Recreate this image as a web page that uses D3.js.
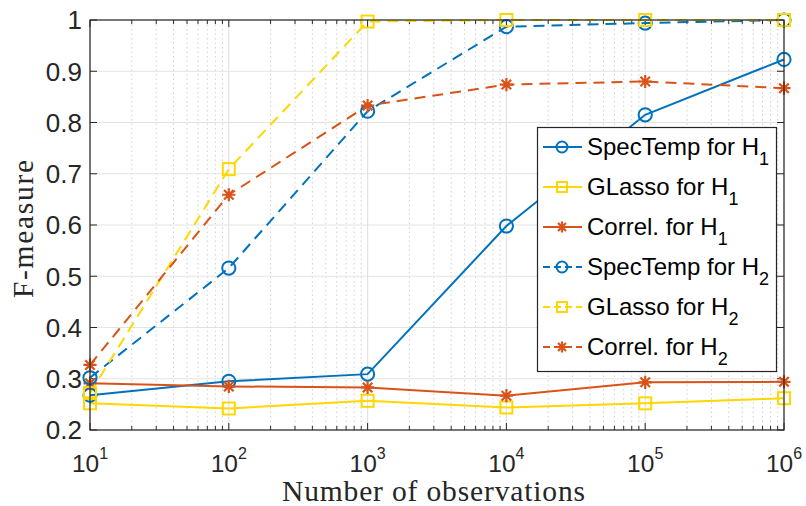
<!DOCTYPE html>
<html><head><meta charset="utf-8">
<script src="https://cdn.jsdelivr.net/npm/d3@7"></script>
<style>body{margin:0;background:#fff}svg{display:block}</style>
</head><body>
<svg id="c" width="806" height="506"></svg>
<script>
const xValues = [1e1, 1e2, 1e3, 1e4, 1e5, 1e6];
const specTempH1 = [0.268, 0.295, 0.309, 0.598, 0.815, 0.923];
const glassoH1   = [0.252, 0.242, 0.257, 0.244, 0.252, 0.262];
const correlH1   = [0.291, 0.285, 0.283, 0.267, 0.293, 0.294];
const specTempH2 = [0.302, 0.516, 0.822, 0.987, 0.994, 1.0];
const glassoH2   = [0.272, 0.709, 0.997, 1.0, 1.0, 1.0];
const correlH2   = [0.327, 0.659, 0.833, 0.874, 0.880, 0.867];
const seriesNames = ["SpecTemp for H", "GLasso for H", "Correl. for H", "SpecTemp for H", "GLasso for H", "Correl. for H"];
const seriesSubs = ["1","1","1","2","2","2"];
const yTicks = [0.2, 0.3, 0.4, 0.5, 0.6, 0.7, 0.8, 0.9, 1];
const yTickLabels = ["0.2","0.3","0.4","0.5","0.6","0.7","0.8","0.9","1"];
const xTickExps = ["1","2","3","4","5","6"];
const xLabel = "Number of observations";
const yLabel = "F-measure";

const BLUE = "#0072BD", ORANGE = "#D95319", YELLOW = "#FFD700";
const series = [
  {vals: specTempH1, color: BLUE, marker: "circle", dash: null},
  {vals: glassoH1, color: YELLOW, marker: "square", dash: null},
  {vals: correlH1, color: ORANGE, marker: "star", dash: null},
  {vals: specTempH2, color: BLUE, marker: "circle", dash: "11,7"},
  {vals: glassoH2, color: YELLOW, marker: "square", dash: "11,7"},
  {vals: correlH2, color: ORANGE, marker: "star", dash: "11,7"}
];

const L = 90, R = 784, T = 20, B = 430;
const x = d3.scaleLog().domain([10, 1e6]).range([L, R]);
const y = d3.scaleLinear().domain([0.2, 1]).range([B, T]);
const svg = d3.select("#c");
const AX = "#262626";
const sans = "'Liberation Sans', Arial, Helvetica, sans-serif";
const serif = "'Liberation Serif', 'DejaVu Serif', serif";

const minor = [];
for (let e = 1; e < 6; e++) for (let m = 2; m <= 9; m++) minor.push(m * Math.pow(10, e));

const g = svg.append("g");
g.selectAll(".mg").data(minor).enter().append("line")
  .attr("x1", d => x(d)).attr("x2", d => x(d)).attr("y1", T).attr("y2", B)
  .attr("stroke", "#cfcfcf").attr("stroke-width", 1).attr("stroke-dasharray", "1.5,3");
g.selectAll(".gx").data(xValues).enter().append("line")
  .attr("x1", d => x(d)).attr("x2", d => x(d)).attr("y1", T).attr("y2", B)
  .attr("stroke", "#e3e3e3").attr("stroke-width", 1.2);
g.selectAll(".gy").data(yTicks).enter().append("line")
  .attr("x1", L).attr("x2", R).attr("y1", d => y(d)).attr("y2", d => y(d))
  .attr("stroke", "#e3e3e3").attr("stroke-width", 1.2);

const tk = svg.append("g").attr("stroke", AX).attr("stroke-width", 1);
xValues.forEach(v => {
  tk.append("line").attr("x1", x(v)).attr("x2", x(v)).attr("y1", B).attr("y2", B - 7);
  tk.append("line").attr("x1", x(v)).attr("x2", x(v)).attr("y1", T).attr("y2", T + 7);
});
minor.forEach(v => {
  tk.append("line").attr("x1", x(v)).attr("x2", x(v)).attr("y1", B).attr("y2", B - 4);
  tk.append("line").attr("x1", x(v)).attr("x2", x(v)).attr("y1", T).attr("y2", T + 4);
});
yTicks.forEach(v => {
  tk.append("line").attr("x1", L).attr("x2", L + 7).attr("y1", y(v)).attr("y2", y(v));
  tk.append("line").attr("x1", R).attr("x2", R - 7).attr("y1", y(v)).attr("y2", y(v));
});

function drawMarker(sel, type, color, cx, cy, s) {
  if (type === "circle") {
    sel.append("circle").attr("cx", cx).attr("cy", cy).attr("r", s * 0.55)
      .attr("fill", "none").attr("stroke", color).attr("stroke-width", 2);
  } else if (type === "square") {
    sel.append("rect").attr("x", cx - s * 0.5).attr("y", cy - s * 0.5).attr("width", s).attr("height", s)
      .attr("fill", "none").attr("stroke", color).attr("stroke-width", 2);
  } else {
    const r = s * 0.55, d = r * 0.72;
    const p = `M${cx - r},${cy}L${cx + r},${cy}M${cx},${cy - r}L${cx},${cy + r}M${cx - d},${cy - d}L${cx + d},${cy + d}M${cx - d},${cy + d}L${cx + d},${cy - d}`;
    sel.append("path").attr("d", p).attr("stroke", color).attr("stroke-width", 2.2).attr("fill", "none");
  }
}
const line = d3.line().x((d, i) => x(xValues[i])).y(d => y(d));
const sg = svg.append("g");
series.forEach(s => {
  sg.append("path").attr("d", line(s.vals)).attr("fill", "none").attr("stroke", s.color)
    .attr("stroke-width", 2).attr("stroke-dasharray", s.dash);
});
series.forEach(s => {
  s.vals.forEach((v, i) => drawMarker(sg, s.marker, s.color, x(xValues[i]), y(v), 12));
});

svg.append("rect").attr("x", L).attr("y", T).attr("width", R - L).attr("height", B - T)
  .attr("fill", "none").attr("stroke", AX).attr("stroke-width", 1.2);

svg.append("g").selectAll("text").data(yTicks).enter().append("text")
  .attr("x", L - 8).attr("y", d => y(d)).attr("dy", "0.36em").attr("text-anchor", "end")
  .attr("font-family", sans).attr("font-size", 26).attr("fill", AX)
  .text((d, i) => yTickLabels[i]);

xValues.forEach((v, i) => {
  const t = svg.append("text").attr("x", x(v)).attr("y", 472).attr("text-anchor", "middle")
    .attr("font-family", sans).attr("font-size", 24.5).attr("fill", AX);
  t.append("tspan").text("10");
  t.append("tspan").attr("dy", -13.5).attr("font-size", 16).text(xTickExps[i]);
});

svg.append("text").attr("x", 433.5).attr("y", 501).attr("text-anchor", "middle")
  .attr("font-family", serif).attr("font-size", 29.5).attr("fill", AX)
  .attr("textLength", 303).attr("lengthAdjust", "spacing").text(xLabel);
svg.append("text").attr("transform", `translate(33,229) rotate(-90)`)
  .attr("text-anchor", "middle").attr("font-family", serif).attr("font-size", 29.5).attr("fill", AX)
  .attr("textLength", 138).attr("lengthAdjust", "spacing").text(yLabel);

const lg = svg.append("g");
lg.append("rect").attr("x", 537.5).attr("y", 127.5).attr("width", 239).attr("height", 244)
  .attr("fill", "#fff").attr("stroke", AX).attr("stroke-width", 1.2);
series.forEach((s, i) => {
  const cy = 147 + i * 40;
  lg.append("line").attr("x1", 543).attr("x2", 582).attr("y1", cy).attr("y2", cy)
    .attr("stroke", s.color).attr("stroke-width", 2).attr("stroke-dasharray", s.dash ? "7,4" : null);
  drawMarker(lg, s.marker, s.color, 562, cy, 10);
  const t = lg.append("text").attr("x", 587).attr("y", cy + 8)
    .attr("font-family", sans).attr("font-size", 24).attr("fill", "#000");
  t.append("tspan").text(seriesNames[i]);
  t.append("tspan").attr("dy", 10).attr("font-size", 18).text(seriesSubs[i]);
});
</script>
</body></html>
